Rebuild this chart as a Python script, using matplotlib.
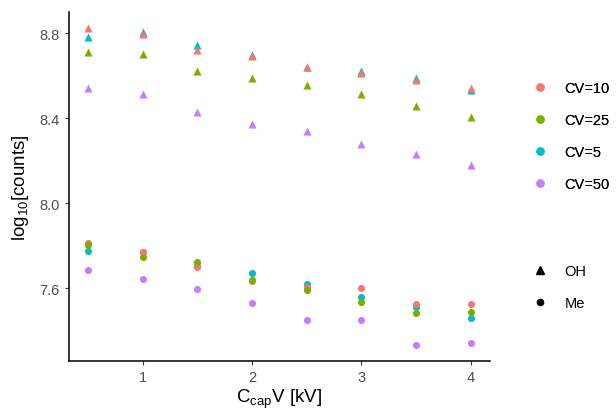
import matplotlib

matplotlib.use("Agg")
import matplotlib.pyplot as plt
from matplotlib.lines import Line2D

plt.rcParams["font.family"] = ["Liberation Sans", "DejaVu Sans"]

voltage = [0.5, 1.0, 1.5, 2.0, 2.5, 3.0, 3.5, 4.0]
cv_labels = ["CV=10", "CV=25", "CV=5", "CV=50"]
cv_colors = ["#F8766D", "#7CAE00", "#00BFC4", "#C77CFF"]

# OH (triangles)
oh_cv5 = [8.783, 8.806, 8.744, 8.700, 8.640, 8.623, 8.588, 8.531]
oh_cv10 = [8.825, 8.795, 8.722, 8.692, 8.642, 8.614, 8.580, 8.544]
oh_cv25 = [8.712, 8.703, 8.622, 8.591, 8.556, 8.513, 8.458, 8.408]
oh_cv50 = [8.541, 8.516, 8.428, 8.375, 8.341, 8.280, 8.231, 8.180]

# Me (circles)
me_cv5 = [7.775, 7.770, 7.705, 7.673, 7.620, 7.559, 7.514, 7.461]
me_cv10 = [7.814, 7.772, 7.700, 7.634, 7.608, 7.603, 7.528, 7.526]
me_cv25 = [7.806, 7.750, 7.722, 7.641, 7.591, 7.537, 7.484, 7.487]
me_cv50 = [7.687, 7.645, 7.598, 7.530, 7.450, 7.450, 7.333, 7.341]

series = [
    ("CV=5", oh_cv5, me_cv5),
    ("CV=10", oh_cv10, me_cv10),
    ("CV=25", oh_cv25, me_cv25),
    ("CV=50", oh_cv50, me_cv50),
]
color_of = dict(zip(cv_labels, cv_colors))

fig = plt.figure(figsize=(6.16, 4.10), dpi=100)
ax = fig.add_axes([0.112, 0.117, 0.683, 0.851])

for label, oh, me in series:
    ax.scatter(voltage, oh, marker="^", s=34, color=color_of[label], linewidths=0, zorder=3)
    ax.scatter(voltage, me, marker="o", s=26, color=color_of[label], linewidths=0, zorder=3)

all_y = oh_cv5 + oh_cv10 + oh_cv25 + oh_cv50 + me_cv5 + me_cv10 + me_cv25 + me_cv50
ymin, ymax = min(all_y), max(all_y)
pad = 0.05 * (ymax - ymin)
ax.set_ylim(ymin - pad, ymax + pad)
xpad = 0.05 * (max(voltage) - min(voltage))
ax.set_xlim(min(voltage) - xpad, max(voltage) + xpad)

ax.set_xticks([1, 2, 3, 4])
ax.set_xticklabels(["1", "2", "3", "4"])
ax.set_yticks([7.6, 8.0, 8.4, 8.8])
ax.set_yticklabels(["7.6", "8.0", "8.4", "8.8"])
ax.tick_params(axis="both", colors="#333333", labelcolor="#4D4D4D", labelsize=10.5,
               length=3, width=0.8)

for side in ["top", "right"]:
    ax.spines[side].set_visible(False)
for side in ["left", "bottom"]:
    ax.spines[side].set_linewidth(1.1)
    ax.spines[side].set_color("black")

ax.set_xlabel(r"C$_{\mathregular{cap}}$V [kV]", fontsize=13.5, labelpad=2)
ax.set_ylabel(r"log$_{\mathregular{10}}$[counts]", fontsize=13.5, labelpad=6)

cv_handles = [Line2D([], [], marker="o", linestyle="", color=c, markersize=5) for c in cv_colors]
leg1 = fig.legend(cv_handles, cv_labels, loc="upper left", bbox_to_anchor=(0.855, 0.815),
                  frameon=False, fontsize=10.5, labelspacing=1.25, handletextpad=1.2,
                  handlelength=1.0, borderaxespad=0)
fig.add_artist(leg1)

shape_handles = [
    Line2D([], [], marker="^", linestyle="", color="black", markersize=5.5),
    Line2D([], [], marker="o", linestyle="", color="black", markersize=4.5),
]
fig.legend(shape_handles, ["OH", "Me"], loc="upper left", bbox_to_anchor=(0.855, 0.368),
           frameon=False, fontsize=10.5, labelspacing=1.25, handletextpad=1.2,
           handlelength=1.0, borderaxespad=0)

fig.savefig("out.png", dpi=100)
